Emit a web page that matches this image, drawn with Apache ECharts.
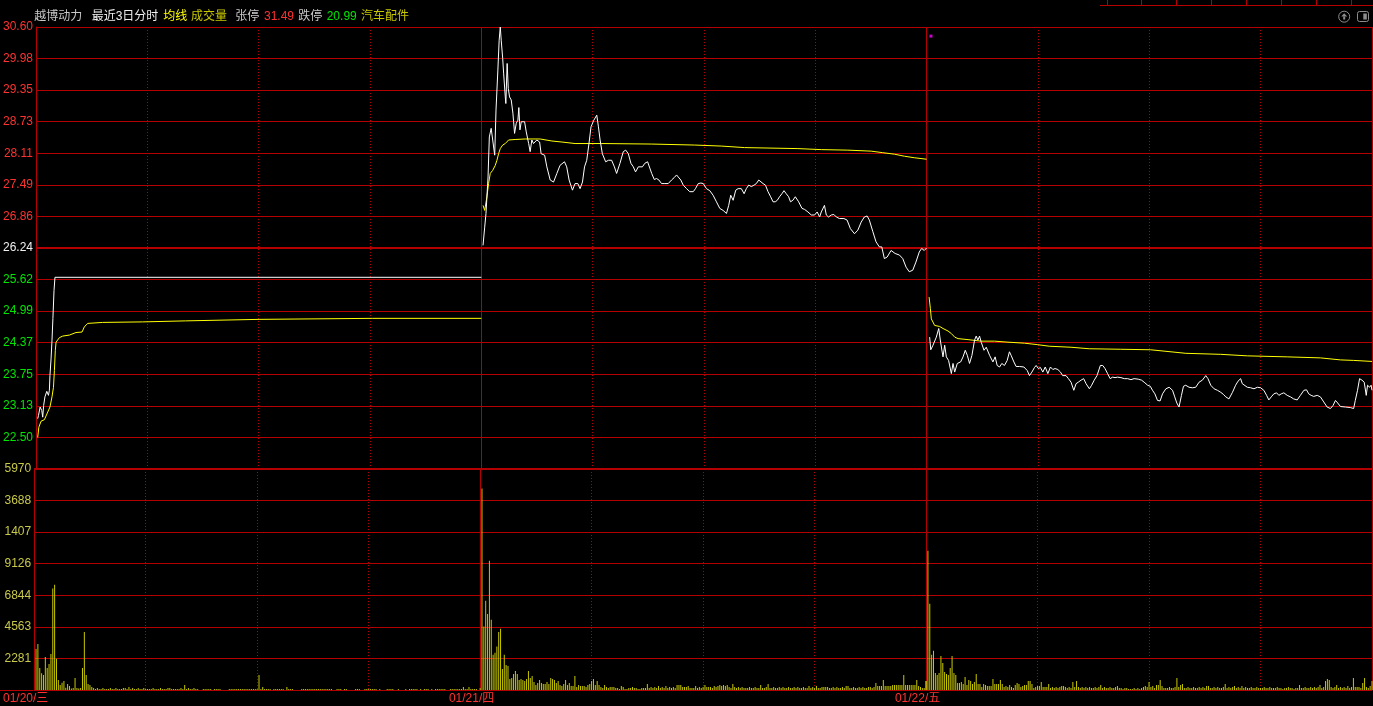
<!DOCTYPE html>
<html><head><meta charset="utf-8">
<script src="https://cdn.jsdelivr.net/npm/echarts@6/dist/echarts.min.js"></script>
<style>html,body{margin:0;padding:0;background:#000;overflow:hidden}#c{width:1373px;height:706px}</style>
</head><body><div id="c"></div>
<script>
// ---------- data ----------
const dateLabels = ['01/20/三', '01/21/四', '01/22/五'];
const priceTicks = ['22.50','23.13','23.75','24.37','24.99','25.62','26.24','26.86','27.49','28.11','28.73','29.35','29.98','30.60'];
const volTicks = ['2281','4563','6844','9126','1407','3688','5970'];
const prevClose = 26.24;
const stockName = '越博动力';
const limitUp = '31.49';
const limitDown = '20.99';
const sector = '汽车配件';

// day 1 price (minute in day, price)
const day1Min = [0.9,1.3,2.2,3.1,3.6,4.1,4.8,5.8,6.7,7.2,7.5,8.1,8.6,9.1,9.7,10.2,240];
const day1Px  = [22.87,22.93,23.10,23.03,22.90,23.13,23.30,23.41,23.33,23.43,23.72,24.05,24.42,24.85,25.40,25.66,25.66];
const day1AvgMin = [0.9,1.5,2.7,4.5,6.3,7.5,8.6,9.4,9.9,10.4,10.8,12.6,14.4,18.0,21.5,24.8,26.0,27.8,35.9,57.4,80.5,120.2,181.2,240];
const day1Avg    = [22.50,22.70,22.82,22.85,23.00,23.10,23.30,23.49,23.82,24.22,24.38,24.47,24.50,24.52,24.57,24.58,24.68,24.75,24.77,24.78,24.80,24.83,24.85,24.85];

// day 2 price
const day2Min = [0.9,1.8,2.5,3.6,4.3,5.3,6.3,7.2,7.9,8.9,9.6,10.2,10.7,11.5,12.0,12.9,13.2,13.9,14.5,15.2,16.1,17.0,17.9,18.8,19.7,20.2,20.8,21.5,22.4,23.3,24.2,25.5,26.3,27.2,28.1,29.9,31.4,32.2,34.1,35.3,37.1,38.9,40.7,42.4,44.8,46.0,47.3,49.1,50.5,52.0,53.2,54.5,55.6,56.8,58.0,59.1,60.6,62.2,63.1,64.0,65.2,67.0,68.5,70.2,71.7,72.9,74.7,76.5,77.8,79.2,80.6,81.9,83.1,84.6,86.8,88.1,89.6,90.3,91.8,93.2,94.4,95.7,97.1,98.9,100.7,102.5,104.0,105.2,106.1,107.5,108.8,110.6,112.3,114.2,115.4,116.9,118.3,119.6,120.4,121.3,123.1,124.9,126.7,128.5,130.3,132.1,133.3,134.4,135.7,137.1,138.4,140.1,141.6,142.8,144.1,145.5,147.0,148.2,149.5,150.5,151.8,153.1,154.5,155.9,157.2,158.4,159.5,160.7,162.0,163.1,164.3,165.6,166.6,167.9,169.2,171.0,172.8,174.2,176.0,177.8,179.6,181.0,182.3,183.2,184.1,184.9,185.9,187.1,188.6,190.0,191.3,193.0,195.4,197.1,198.9,201.1,202.9,204.7,206.4,207.9,209.1,211.0,212.7,214.5,215.8,217.2,218.7,220.8,223.0,225.3,227.1,228.9,230.6,232.5,234.2,236.0,237.3,238.7,240];
const day2Px  = [26.29,26.65,26.92,27.64,28.43,28.60,28.57,28.07,28.96,29.75,30.34,30.60,30.34,29.98,29.69,29.22,29.09,29.88,29.39,29.22,29.16,28.90,28.50,28.70,28.76,29.01,28.57,28.73,28.76,28.73,28.53,28.30,28.14,28.37,28.30,28.37,28.33,28.10,28.07,27.84,27.58,27.54,27.71,27.87,27.94,27.84,27.58,27.38,27.51,27.51,27.41,27.54,27.84,27.97,28.30,28.63,28.76,28.86,28.63,28.37,28.10,27.94,27.97,27.97,27.84,27.71,27.91,28.14,28.17,28.10,27.91,27.84,27.74,27.84,27.84,27.91,27.94,27.97,27.71,27.59,27.61,27.58,27.51,27.51,27.51,27.58,27.63,27.68,27.64,27.58,27.48,27.41,27.35,27.35,27.41,27.51,27.52,27.51,27.53,27.41,27.37,27.28,27.15,27.02,26.98,26.92,27.08,27.28,27.18,27.38,27.41,27.41,27.31,27.41,27.48,27.45,27.48,27.51,27.58,27.59,27.51,27.48,27.35,27.25,27.15,27.15,27.18,27.25,27.31,27.37,27.31,27.25,27.15,27.18,27.25,27.15,27.02,27.00,26.95,26.89,26.89,26.95,26.85,26.95,26.92,27.08,26.89,26.85,26.89,26.90,26.85,26.82,26.82,26.79,26.62,26.52,26.59,26.75,26.85,26.87,26.79,26.56,26.36,26.26,26.26,26.03,26.06,26.19,26.13,26.10,26.03,25.86,25.77,25.80,25.96,26.16,26.23,26.19,26.24];
const day2AvgMin = [0.9,1.8,3.0,3.9,4.8,6.1,7.5,8.4,9.3,10.2,11.5,12.9,14.7,18.2,23.6,31.7,38.0,43.4,50.5,64.9,91.8,115.0,129.3,141.9,170.6,183.2,197.5,210.1,216.3,222.6,228.0,233.3,240];
const day2Avg    = [27.08,26.98,27.25,27.51,27.71,27.77,27.87,27.97,28.10,28.20,28.27,28.30,28.37,28.38,28.39,28.39,28.35,28.33,28.30,28.30,28.29,28.27,28.25,28.22,28.20,28.18,28.17,28.15,28.12,28.09,28.05,28.02,27.99];

// day 3 price
const day3Min = [1.6,2.2,3.4,5.2,6.5,7.5,8.8,9.7,10.6,11.8,13.3,14.2,15.1,16.5,18.3,19.6,20.8,21.9,23.1,24.4,25.8,26.7,27.6,28.5,29.4,30.9,32.1,33.9,35.7,36.9,38.0,39.3,40.5,41.9,43.4,44.6,45.5,47.0,48.2,50.0,52.4,54.2,55.4,56.7,58.1,59.0,60.2,61.3,62.6,63.9,65.3,66.7,68.0,69.2,70.7,72.1,73.3,75.1,76.4,77.8,79.3,80.5,81.7,83.2,84.6,85.9,87.7,88.9,90.3,91.8,93.6,94.9,96.1,97.5,98.9,100.2,101.5,102.9,104.7,106.5,108.3,110.1,111.8,114.0,115.8,117.2,119.1,120.5,121.7,123.0,124.4,125.8,127.1,128.9,130.7,132.5,133.7,134.8,136.0,137.3,138.4,139.6,141.4,143.2,145.0,146.8,148.6,150.4,151.6,153.1,154.9,156.7,158.5,159.9,161.2,162.9,164.8,166.5,167.8,169.2,170.1,171.0,172.8,174.6,176.4,178.2,180.0,181.7,183.2,184.4,185.7,187.1,188.6,189.8,191.1,192.5,194.3,196.1,197.8,199.7,201.4,203.3,204.7,205.9,207.2,208.6,210.5,212.2,214.0,215.8,217.6,219.0,220.3,221.5,223.0,225.7,228.3,230.1,231.0,232.2,233.3,234.6,235.8,236.9,237.6,238.7,239.5,240];
const day3Px  = [24.48,24.23,24.32,24.48,24.65,24.38,24.09,24.32,24.09,24.02,23.76,23.96,23.79,23.96,23.99,24.09,24.22,24.12,23.96,24.12,24.42,24.50,24.42,24.50,24.38,24.22,24.28,24.12,23.99,24.09,23.92,23.89,23.96,23.92,24.02,24.19,24.12,23.99,23.90,23.90,23.89,23.82,23.72,23.79,23.88,23.92,23.86,23.88,23.79,23.89,23.76,23.89,23.84,23.86,23.84,23.79,23.72,23.72,23.66,23.59,23.43,23.56,23.59,23.63,23.66,23.56,23.46,23.53,23.63,23.72,23.92,23.92,23.86,23.76,23.66,23.69,23.68,23.69,23.68,23.66,23.66,23.64,23.66,23.65,23.63,23.59,23.53,23.51,23.43,23.36,23.23,23.22,23.36,23.46,23.49,23.43,23.30,23.18,23.10,23.33,23.51,23.53,23.49,23.48,23.49,23.59,23.63,23.72,23.66,23.53,23.46,23.43,23.39,23.35,23.30,23.26,23.39,23.53,23.61,23.66,23.56,23.59,23.49,23.48,23.46,23.49,23.48,23.43,23.33,23.24,23.30,23.36,23.38,23.33,23.36,23.38,23.33,23.30,23.26,23.24,23.33,23.43,23.44,23.36,23.33,23.31,23.33,23.30,23.20,23.10,23.07,23.13,23.23,23.18,23.11,23.10,23.09,23.07,23.23,23.43,23.66,23.63,23.59,23.33,23.53,23.49,23.53,23.43];
const day3AvgMin = [1.3,2.0,2.5,4.3,7.0,8.8,11.5,13.3,15.1,16.9,22.3,29.4,36.6,43.8,52.7,59.9,66.1,77.8,87.6,104.6,120.7,121.7,139.7,158.5,172.8,194.3,212.2,223.0,230.1,240];
const day3Avg    = [25.27,25.04,24.84,24.71,24.69,24.65,24.60,24.55,24.48,24.45,24.43,24.40,24.40,24.38,24.36,24.33,24.30,24.28,24.25,24.24,24.23,24.21,24.16,24.14,24.11,24.09,24.07,24.03,24.02,24.00];

// volume per minute slot (index 0..240 of each day)
const vol1 = [0,2970,3330,1590,1210,1090,2390,1590,1880,2610,
7340,7600,2250,720,360,530,650,170,430,290,
100,145,870,145,100,145,1590,4200,1090,430,
360,220,145,70,145,70,70,145,70,70,
70,145,70,70,145,70,70,70,145,145,
70,220,70,145,70,70,145,70,70,145,
70,70,70,70,145,70,70,70,145,70,
70,70,145,145,70,70,70,70,70,145,
70,360,70,145,70,70,145,70,70,0,
0,70,70,70,70,70,0,70,70,70,
70,0,0,0,0,70,70,70,70,70,
70,70,70,70,70,70,70,70,70,70,
70,1090,70,220,70,70,70,70,0,70,
70,70,70,70,70,0,220,70,70,70,
0,0,0,0,70,70,70,70,70,70,
70,70,70,70,70,70,70,70,70,70,
70,0,0,70,70,70,0,70,70,0,
0,0,0,70,70,70,0,0,70,70,
70,70,70,70,70,0,70,0,0,0,
70,70,70,70,0,0,70,0,0,0,
70,0,70,70,70,70,70,0,70,0,
70,70,70,0,70,0,70,70,70,70,
70,70,0,0,70,70,70,70,70,70,
70,220,70,70,220,70,70,70,70,0,
145];
const vol2 = [0,14560,4590,6450,5500,9340,5070,2540,2700,3140,
4200,4420,1520,2540,1810,1740,800,870,1160,1380,
1160,720,800,720,650,800,1380,870,1010,580,
360,510,720,510,430,430,580,430,870,800,
720,510,650,360,290,430,720,360,510,290,
290,1010,220,360,290,290,290,220,360,430,
650,800,360,650,360,220,150,360,220,150,
220,220,220,150,150,70,290,220,70,70,
150,150,220,150,150,70,70,150,150,150,
430,150,220,150,220,150,290,150,220,150,
290,150,220,150,220,150,360,360,360,220,
220,220,290,150,150,150,290,150,220,150,
220,360,220,220,220,150,290,220,290,360,
290,360,290,360,220,150,430,220,150,220,
150,220,150,150,150,220,150,150,220,150,
150,360,150,150,220,430,150,150,220,150,
150,220,150,220,150,150,220,150,150,220,
150,220,150,150,220,150,150,290,150,220,
150,290,150,150,220,220,220,220,150,150,
220,150,220,150,150,220,150,290,290,150,
150,220,150,150,220,150,220,150,150,220,
220,150,220,510,290,290,290,720,290,290,
290,290,360,360,360,360,360,360,1090,360,
360,360,360,360,360,720,290,220,150,150,
650];
const vol3 = [650,10070,6230,2540,2830,1230,1090,1230,2460,1960,
1300,1160,1090,1590,2460,1230,1090,510,510,580,
430,940,360,720,650,430,580,1160,430,430,
220,430,360,290,290,290,800,430,430,430,
720,430,220,290,220,360,220,150,360,510,
430,220,290,360,360,650,650,430,150,220,
290,290,580,220,220,220,430,150,220,150,
220,150,220,290,290,220,150,220,150,580,
220,650,220,150,220,150,220,150,220,150,
150,220,150,220,360,150,220,150,150,220,
150,150,220,290,150,150,70,150,150,70,
70,70,150,70,150,70,150,220,290,220,
580,220,290,150,360,360,720,290,150,150,
150,220,150,150,220,870,220,360,430,150,
150,220,150,150,220,150,150,220,150,220,
150,290,290,150,150,220,150,220,150,150,
220,430,150,220,150,220,290,150,220,150,
290,150,220,150,150,220,150,150,220,150,
150,150,220,150,150,220,150,150,150,220,
150,150,70,150,150,220,150,150,70,150,
150,360,150,150,220,150,150,220,150,220,
150,220,360,150,220,650,800,720,220,150,
220,360,150,220,150,220,150,290,150,220,
870,220,220,220,150,510,870,220,150,290,
650];

const markDot = [[482.3, 30.42]];

// ---------- build ----------
const RED = '#b40000';
const FONT = '"Liberation Sans", "Noto Sans CJK SC", sans-serif';
const stepP = 8.1 / 13;
const pMin = 22.5 - stepP, pMax = 30.6;
const vMax = 15970, stepV = vMax / 7;

function zip(mins, vals, day) { return mins.map((m, i) => [day * 240 + m, vals[i]]); }
const volData = [];
[vol1, vol2, vol3].forEach((arr, d) => arr.forEach((v, i) => { if (v > 0) volData.push([d * 240 + i, v]); }));

function lineSeries(data, color, extra) {
  return Object.assign({ type: 'line', xAxisIndex: 0, yAxisIndex: 0, data: data, showSymbol: false, symbol: 'none',
    lineStyle: { color: color, width: 1 }, silent: true, z: 5 }, extra || {});
}

const chart = echarts.init(document.getElementById('c'), null, { renderer: 'canvas' });
const headerItems = [
  { t: stockName, x: 34.3, c: '#c8c8c8' },
  { t: '最近3日分时', x: 91.7, c: '#f0f0f0' },
  { t: '均线', x: 163.3, c: '#ffff00' },
  { t: '成交量', x: 191, c: '#c8c800' },
  { t: '张停', x: 235.3, c: '#c8c8c8' },
  { t: limitUp, x: 264, c: '#ff3232' },
  { t: '跌停', x: 298.3, c: '#c8c8c8' },
  { t: limitDown, x: 326.7, c: '#00e600' },
  { t: sector, x: 361, c: '#c8c800' }
];
const graphics = headerItems.map(h => ({ type: 'text', x: h.x, y: 17, silent: true,
  style: { text: h.t, fill: h.c, font: '12px ' + FONT, verticalAlign: 'middle', align: 'left' } }));
// top-right button strip
[1107.5, 1141.5, 1176.5, 1211.5, 1246.5, 1281.5, 1316.5, 1351.5].forEach(x => graphics.push({
  type: 'line', silent: true, shape: { x1: x, y1: 0, x2: x, y2: 5.5 }, style: { stroke: RED, lineWidth: 1 } }));
graphics.push({ type: 'line', silent: true, shape: { x1: 1100, y1: 5.5, x2: 1373, y2: 5.5 }, style: { stroke: RED, lineWidth: 1 } });
graphics.push({ type: 'circle', silent: true, shape: { cx: 1344.2, cy: 16.7, r: 5.5 }, style: { stroke: '#8c8c8c', fill: 'none', lineWidth: 1 } });
graphics.push({ type: 'polygon', silent: true, shape: { points: [[1344.2, 13.2], [1341.2, 16.5], [1347.2, 16.5]] }, style: { fill: '#8c8c8c' } });
graphics.push({ type: 'rect', silent: true, shape: { x: 1343.2, y: 16.5, width: 2, height: 3 }, style: { fill: '#8c8c8c' } });
graphics.push({ type: 'rect', silent: true, shape: { x: 1357.5, y: 11.5, width: 11, height: 10, r: 2 }, style: { stroke: '#8c8c8c', fill: 'none', lineWidth: 1 } });
graphics.push({ type: 'rect', silent: true, shape: { x: 1363.3, y: 13.5, width: 3.5, height: 6 }, style: { fill: '#8c8c8c' } });
graphics.push({ type: 'line', silent: true, shape: { x1: 0, y1: 690.5, x2: 33, y2: 690.5 }, style: { stroke: RED, lineWidth: 1 } });

const solidX = { silent: true, z: 1, symbol: ['none', 'none'], label: { show: false },
  lineStyle: { color: RED, type: 'solid', width: 1 }, emphasis: { disabled: true } };

const option = {
  backgroundColor: '#000',
  animation: false,
  graphic: graphics,
  grid: [
    { left: 33, top: 27, width: 1339, height: 442 },
    { left: 33, top: 469, width: 1339, height: 221 }
  ],
  xAxis: [
    { gridIndex: 0, type: 'value', min: 0, max: 720, interval: 60,
      axisLine: { show: false }, axisTick: { show: false }, axisLabel: { show: false },
      splitLine: { show: true, lineStyle: { color: RED, type: [1, 2], width: 1 } } },
    { gridIndex: 1, type: 'value', min: 0, max: 720, interval: 60,
      axisLine: { show: true, lineStyle: { color: RED, width: 1 } }, axisTick: { show: false },
      axisLabel: { show: true, color: '#ff3232', fontSize: 12, fontFamily: FONT, margin: 3,
        padding: [0, 17, 0, 0], showMinLabel: true, showMaxLabel: false, hideOverlap: false,
        formatter: v => (v % 240 === 0 && v < 720) ? dateLabels[v / 240] : '' },
      splitLine: { show: true, lineStyle: { color: RED, type: [1, 2], width: 1 } } }
  ],
  yAxis: [
    { gridIndex: 0, type: 'value', min: pMin, max: pMax, interval: stepP, scale: false,
      axisLine: { show: true, lineStyle: { color: RED, width: 1 } }, axisTick: { show: false },
      splitLine: { show: true, lineStyle: { color: RED, width: 1 } },
      axisLabel: { show: true, fontSize: 12, fontFamily: FONT, margin: 3, showMinLabel: false,
        formatter: v => { const i = Math.round((Number(v) - pMin) / stepP) - 1; return priceTicks[i] || ''; },
        color: v => { const i = Math.round((Number(v) - pMin) / stepP) - 1; return i < 6 ? '#00e600' : (i === 6 ? '#f0f0f0' : '#ff3232'); } } },
    { gridIndex: 1, type: 'value', min: 0, max: vMax, interval: stepV,
      axisLine: { show: true, lineStyle: { color: RED, width: 1 } }, axisTick: { show: false },
      splitLine: { show: true, lineStyle: { color: RED, width: 1 } },
      axisLabel: { show: true, fontSize: 12, fontFamily: FONT, margin: 3, color: '#c8c84b',
        formatter: v => { const i = Math.round(Number(v) / stepV); return i > 0 ? (volTicks[i - 1] || '') : ''; } } }
  ],
  series: [
    lineSeries(zip(day1AvgMin, day1Avg, 0), '#ffff00', {
      markLine: Object.assign({}, solidX, { data: [{ xAxis: 240 }, { xAxis: 480 }, { xAxis: 720 },
        { yAxis: pMin + 7 * stepP, lineStyle: { color: RED, width: 2, type: 'solid' } }] }) }),
    lineSeries(zip(day2AvgMin, day2Avg, 1), '#ffff00'),
    lineSeries(zip(day3AvgMin, day3Avg, 2), '#ffff00'),
    lineSeries(zip(day1Min, day1Px, 0), '#ffffff', { z: 6 }),
    lineSeries(zip(day2Min, day2Px, 1), '#ffffff', { z: 6 }),
    lineSeries(zip(day3Min, day3Px, 2), '#ffffff', { z: 6 }),
    { type: 'scatter', xAxisIndex: 0, yAxisIndex: 0, data: markDot, symbol: 'rect', symbolSize: 3,
      itemStyle: { color: '#ff00ff' }, silent: true },
    { type: 'bar', xAxisIndex: 1, yAxisIndex: 1, data: volData, barWidth: 1, silent: true, z: 3,
      itemStyle: { color: '#c8c800' }, large: false,
      markLine: Object.assign({}, solidX, { data: [{ xAxis: 240 }, { xAxis: 480 }, { xAxis: 720 },
        { yAxis: vMax, lineStyle: { color: RED, width: 2, type: 'solid' } }] }) }
  ]
};
chart.setOption(option);
</script>
</body></html>
